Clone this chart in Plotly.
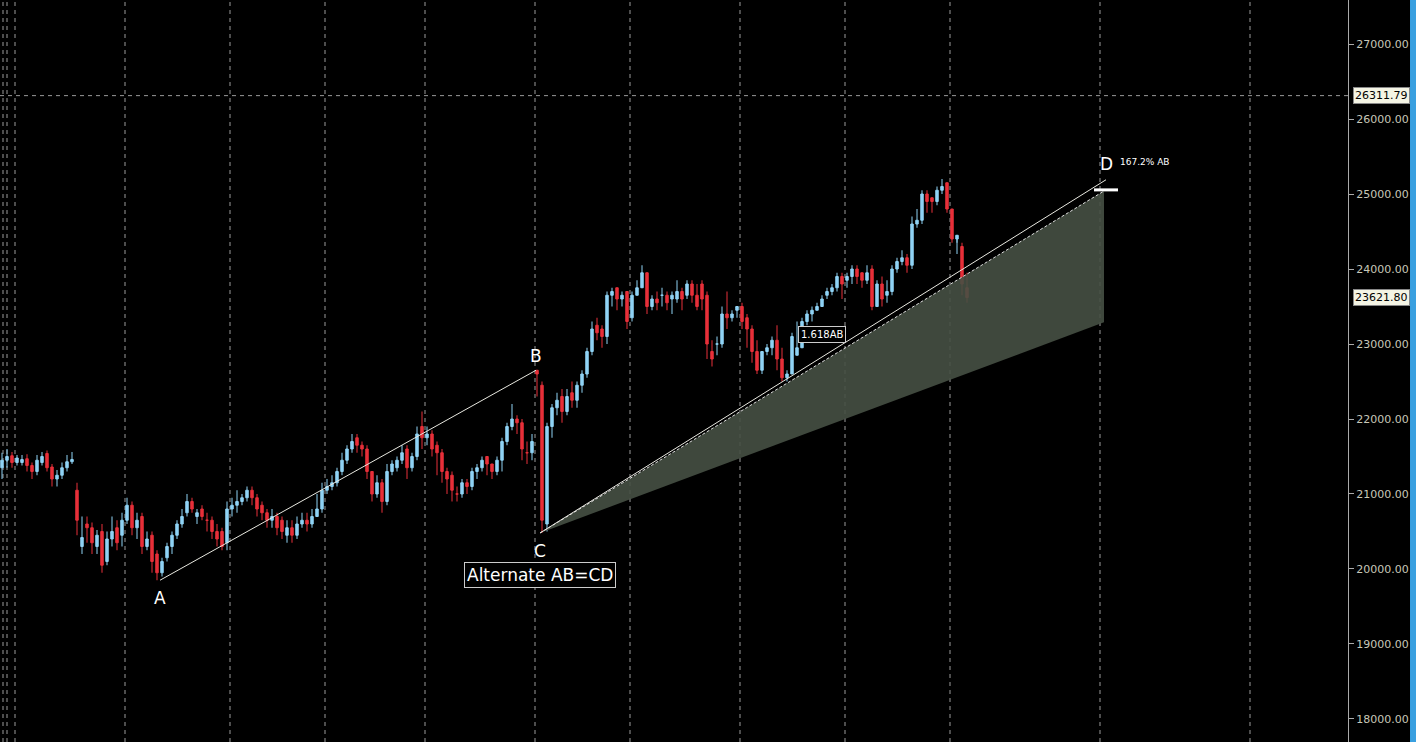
import plotly.graph_objects as go

# candle index -> chart position (5 px per bar)
opens = [21350, 21450, 21510, 21420, 21420, 21470, 21380, 21300, 21420, 21540, 21360, 21200, 21250, 21350, 21430,
         21050, 20300, 20600, 20550, 20300, 20500, 20100, 20400, 20550, 20450, 20650, 20850, 20550, 20700, 20300,
         20450, 20200, 19950, 20150, 20300, 20450, 20600, 20750, 20900, 20700, 20800, 20650, 20650, 20500, 20500,
         20350, 20800, 20850, 20900, 20950, 21050, 20950, 20850, 20750, 20650, 20700, 20650, 20450, 20550, 20450,
         20600, 20650, 20600, 20700, 20800, 21050, 21100, 21150, 21300, 21450, 21600, 21750, 21650, 21600, 21300,
         21000, 21150, 20900, 21300, 21350, 21450, 21600, 21350, 21500, 21900, 21750, 21800, 21650, 21550, 21300,
         21250, 21000, 21000, 21150, 21100, 21300, 21350, 21500, 21400, 21300, 21450, 21700, 21900, 22000, 21950,
         21550, 21550, 22650, 22450, 20600, 21900, 22150, 22300, 22100, 22350, 22250, 22450, 22600, 22900, 23250,
         23200, 23100, 23650, 23750, 23600, 23700, 23350, 23650, 23750, 23950, 23500, 23600, 23650, 23650, 23600,
         23600, 23700, 23650, 23800, 23650, 23800, 23650, 22900, 23000, 23000, 23400, 23350, 23450, 23500, 23350,
         23200, 22900, 22650, 22900, 22950, 23050, 22800, 22550, 22600, 22850, 22950, 23300, 23400, 23450, 23500,
         23650, 23700, 23750, 23900, 23850, 23900, 24000, 23950, 23850, 24000, 23500, 23800, 23650, 23700, 24000,
         24100, 24150, 24050, 24600, 24650, 25000, 24950, 24900, 25050, 25150, 24800, 24400, 24300, 23750]
closes = [21450, 21500, 21420, 21480, 21460, 21380, 21300, 21450, 21500, 21350, 21200, 21250, 21350, 21430, 21460,
          20650, 20420, 20550, 20350, 20450, 20050, 20400, 20500, 20350, 20650, 20850, 20550, 20650, 20300, 20400,
          20100, 19950, 20100, 20300, 20450, 20600, 20700, 20900, 20800, 20750, 20700, 20650, 20500, 20400, 20300,
          20800, 20850, 20900, 20950, 21050, 20950, 20800, 20750, 20650, 20700, 20550, 20500, 20550, 20450, 20600,
          20650, 20600, 20700, 20800, 21050, 21100, 21150, 21300, 21450, 21600, 21700, 21650, 21600, 21300, 21000,
          21150, 20900, 21300, 21400, 21450, 21550, 21350, 21500, 21800, 21750, 21800, 21600, 21550, 21300, 21200,
          21050, 21000, 21150, 21100, 21300, 21350, 21450, 21400, 21300, 21450, 21700, 21900, 22000, 21950, 21600,
          21550, 21700, 22600, 20650, 21900, 22150, 22250, 22100, 22300, 22250, 22450, 22600, 22900, 23200, 23150,
          23100, 23650, 23700, 23600, 23650, 23300, 23650, 23750, 23950, 23500, 23600, 23550, 23650, 23550, 23650,
          23700, 23600, 23800, 23650, 23500, 23600, 23000, 22800, 23000, 23400, 23350, 23400, 23500, 23300, 23200,
          22900, 22650, 22900, 22950, 23050, 22800, 22550, 22600, 23100, 22950, 23300, 23400, 23450, 23500, 23600,
          23700, 23750, 23900, 23800, 23900, 24000, 23900, 23850, 23950, 23500, 23800, 23600, 23700, 24000, 24100,
          24150, 24050, 24600, 24650, 25000, 24900, 24900, 25050, 25100, 24800, 24400, 24450, 23800, 23620]
highs = [21550, 21600, 21560, 21520, 21520, 21530, 21420, 21520, 21560, 21580, 21400, 21320, 21420, 21520, 21560,
         21150, 20700, 20700, 20620, 20520, 20600, 20500, 20700, 20650, 20750, 20950, 20900, 20750, 20750, 20500,
         20500, 20250, 20150, 20350, 20500, 20650, 20800, 21000, 20950, 20800, 20850, 20750, 20700, 20600, 20550,
         20900, 20950, 21050, 21000, 21100, 21100, 21000, 20900, 20800, 20800, 20750, 20700, 20650, 20650, 20700,
         20750, 20750, 20800, 21000, 21150, 21200, 21250, 21350, 21550, 21650, 21800, 21800, 21700, 21650, 21300,
         21250, 21200, 21400, 21450, 21500, 21650, 21650, 21550, 21900, 22100, 21900, 21850, 21700, 21600, 21350,
         21300, 21100, 21200, 21200, 21350, 21400, 21500, 21500, 21400, 21500, 21750, 21950, 22200, 22050, 22000,
         21700, 21800, 22650, 22500, 21950, 22200, 22350, 22400, 22400, 22500, 22500, 22650, 22950, 23300, 23350,
         23250, 23700, 23750, 23750, 23700, 23700, 23700, 23850, 24050, 23650, 23650, 23700, 23750, 23700, 23700,
         23850, 23750, 23850, 23850, 23800, 23850, 23700, 23050, 23100, 23500, 23700, 23450, 23500, 23550, 23400,
         23250, 23050, 22900, 23000, 23100, 23250, 22950, 22650, 23150, 23300, 23350, 23450, 23500, 23550, 23650,
         23750, 23800, 23950, 23950, 23950, 24050, 24050, 23950, 24050, 24050, 23850, 23900, 23850, 24050, 24150,
         24250, 24200, 24700, 24800, 25050, 25050, 24950, 25100, 25200, 25100, 24550, 24350, 24350, 23950]
lows = [21200, 21350, 21350, 21380, 21380, 21300, 21200, 21250, 21380, 21300, 21100, 21100, 21200, 21300, 21400,
        20450, 20200, 20350, 20200, 20200, 19950, 20050, 20300, 20250, 20300, 20600, 20450, 20400, 20200, 20250,
        19950, 19850, 19900, 20100, 20200, 20400, 20550, 20700, 20750, 20600, 20650, 20500, 20400, 20300, 20250,
        20250, 20700, 20750, 20850, 20900, 20850, 20700, 20650, 20550, 20550, 20450, 20400, 20350, 20350, 20400,
        20550, 20500, 20550, 20700, 20750, 21000, 21050, 21100, 21250, 21400, 21550, 21550, 21500, 21200, 20900,
        20950, 20750, 20850, 21250, 21300, 21400, 21200, 21300, 21450, 21600, 21650, 21500, 21250, 21150, 21000,
        20900, 20900, 20950, 21000, 21050, 21200, 21300, 21250, 21200, 21250, 21300, 21650, 21850, 21800, 21450,
        21400, 21450, 22300, 20480, 20500, 21750, 22050, 21950, 22050, 22150, 22150, 22350, 22550, 22850, 23050,
        22950, 23000, 23500, 23450, 23500, 23200, 23300, 23650, 23800, 23400, 23450, 23450, 23500, 23450, 23400,
        23550, 23450, 23600, 23550, 23450, 23450, 22800, 22700, 22850, 22950, 23200, 23300, 23350, 23200, 22950,
        22750, 22600, 22600, 22850, 22850, 22650, 22500, 22500, 22750, 22850, 23050, 23250, 23300, 23450, 23550,
        23600, 23650, 23700, 23600, 23750, 23800, 23800, 23750, 23800, 23450, 23550, 23500, 23550, 23650, 23950,
        24050, 23950, 24000, 24550, 24600, 24750, 24750, 24850, 25000, 24750, 24350, 24200, 23650, 23550]

# pattern points: (bar index, price)
pt_a = (31.6, 19850)
pt_b = (106.8, 22650)
pt_c = (107.6, 20480)
pt_d = (220.8, 25190)
d_level = 25040
zone_low = 23290
grid_bars = [0.2, 1.0, 2.6, 24.6, 45.6, 64.6, 84.6, 106.6, 125.6, 147.6, 168.6, 189.6, 219.6, 249.6]
last_price = 23621.80
marker_price = 26311.79
ytick_vals = [18000, 19000, 20000, 21000, 22000, 23000, 24000, 25000, 26000, 27000]

fig = go.Figure()
fig.add_trace(go.Candlestick(
    x=list(range(len(opens))), open=opens, high=highs, low=lows, close=closes,
    increasing=dict(line=dict(color='#8fd3f5', width=1), fillcolor='#8fd3f5'),
    decreasing=dict(line=dict(color='#e8303a', width=1), fillcolor='#e8303a'),
    whiskerwidth=0, showlegend=False, hoverinfo='skip'
))

# projection zone C -> D
fig.add_trace(go.Scatter(
    x=[pt_c[0], pt_d[0] - 0.4, pt_d[0] - 0.4, pt_c[0]],
    y=[pt_c[1], d_level, zone_low, pt_c[1]],
    fill='toself', fillcolor='rgba(70,80,68,0.9)', mode='lines',
    line=dict(color='rgba(0,0,0,0)'), showlegend=False, hoverinfo='skip'
))
fig.add_trace(go.Scatter(
    x=[pt_c[0], pt_d[0] - 0.4], y=[pt_c[1], d_level], mode='lines',
    line=dict(color='#dddddd', width=1, dash='3px,2px'), showlegend=False, hoverinfo='skip'
))
for p0, p1 in [(pt_a, pt_b), (pt_c, pt_d)]:
    fig.add_trace(go.Scatter(
        x=[p0[0], p1[0]], y=[p0[1], p1[1]], mode='lines',
        line=dict(color='#e8e8e0', width=1), showlegend=False, hoverinfo='skip'
    ))

# grid
for gx in grid_bars:
    fig.add_shape(type='line', x0=gx, x1=gx, y0=0, y1=1, yref='paper',
                  line=dict(color='#9a9a9a', width=1, dash='4px,4px'), layer='below')
fig.add_shape(type='line', x0=0, x1=1, xref='paper', y0=marker_price, y1=marker_price,
              line=dict(color='#9a9a9a', width=1, dash='4px,4px'))
fig.add_shape(type='line', x0=pt_d[0] - 2.4, x1=pt_d[0] + 2.4, y0=d_level + 15, y1=d_level + 15,
              line=dict(color='white', width=3))
fig.add_shape(type='rect', x0=1.046, x1=1.06, xref='paper', y0=0, y1=1, yref='paper',
              fillcolor='#3aa0e0', line=dict(width=0))

lbl = dict(color='white', size=17, family='DejaVu Sans')
fig.add_annotation(x=pt_a[0], y=pt_a[1], text='A', showarrow=False, yshift=-18, font=lbl)
fig.add_annotation(x=pt_b[0], y=pt_b[1], text='B', showarrow=False, yshift=14, xshift=0, font=lbl)
fig.add_annotation(x=pt_c[0], y=pt_c[1], text='C', showarrow=False, yshift=-18, font=lbl)
fig.add_annotation(x=pt_d[0], y=pt_d[1], text='D', showarrow=False, yshift=16, font=lbl)
fig.add_annotation(x=pt_c[0], y=pt_c[1], text='Alternate AB=CD', showarrow=False, yshift=-42,
                   font=dict(color='white', size=17, family='DejaVu Sans'),
                   bordercolor='#cccccc', borderwidth=1, borderpad=2, bgcolor='black')
fig.add_annotation(x=164, y=23130, text='1.618AB', showarrow=False,
                   font=dict(color='white', size=10, family='DejaVu Sans'),
                   bordercolor='#cccccc', borderwidth=1, borderpad=2, bgcolor='black')
fig.add_annotation(x=pt_d[0] + 2.4, y=pt_d[1], text='167.2% AB', showarrow=False, xanchor='left',
                   yshift=18, font=dict(color='white', size=9, family='DejaVu Sans'))
for pv in [marker_price, last_price]:
    fig.add_annotation(x=1.0, xref='paper', y=pv, text=f'{pv:.2f}', showarrow=False, xanchor='left',
                       xshift=5, font=dict(color='black', size=11, family='DejaVu Sans'),
                       bgcolor='#f4f4e4', bordercolor='#888888', borderwidth=1, borderpad=1)

fig.update_layout(
    width=1416, height=742, paper_bgcolor='black', plot_bgcolor='black',
    margin=dict(l=0, r=68, t=0, b=0, autoexpand=False),
    xaxis=dict(range=[-0.4, 269.2], showgrid=False, showticklabels=False, zeroline=False,
               rangeslider=dict(visible=False)),
    yaxis=dict(range=[17693, 27587], side='right', tickvals=ytick_vals,
               ticktext=[f'{v:.2f}' for v in ytick_vals], showgrid=False, zeroline=False,
               showline=True, linecolor='#aaaaaa', ticks='outside', ticklen=5, tickcolor='#aaaaaa',
               tickfont=dict(color='#c8c8b8', size=11, family='DejaVu Sans')),
)

fig.write_html("out.html", config={'displayModeBar': False},
               post_script="document.body.style.margin='0';document.body.style.background='black';")
